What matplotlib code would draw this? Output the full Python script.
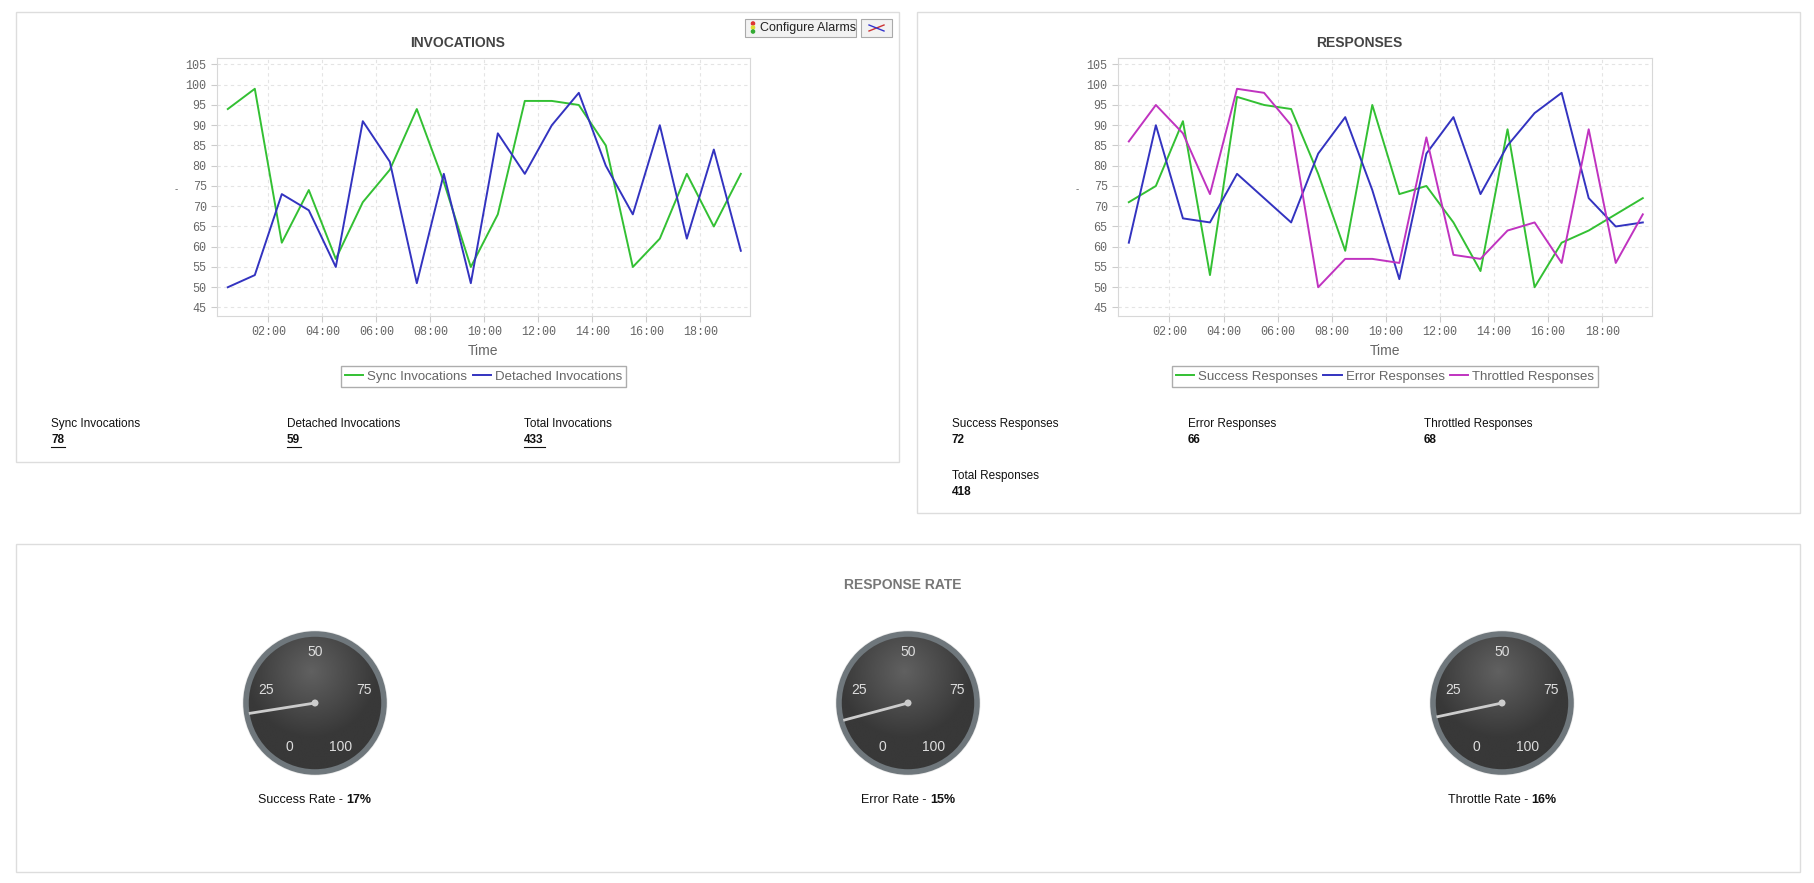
import numpy as np
import matplotlib
matplotlib.use("Agg")
import matplotlib.pyplot as plt
from matplotlib.patches import Rectangle, Circle
from matplotlib.ticker import FuncFormatter, MultipleLocator

plt.rcParams['font.family'] = ['Liberation Sans', 'DejaVu Sans']

hours = [0.5 + i for i in range(20)]
sync_inv = [94, 99, 61, 74, 57, 71, 79, 94, 76, 55, 68, 96, 96, 95, 85, 55, 62, 78, 65, 78]
detached_inv = [50, 53, 73, 69, 55, 91, 81, 51, 78, 51, 88, 78, 90, 98, 80, 68, 90, 62, 84, 59]
success_resp = [71, 75, 91, 53, 97, 95, 94, 78, 59, 95, 73, 75, 66, 54, 89, 50, 61, 64, 68, 72]
error_resp = [61, 90, 67, 66, 78, 72, 66, 83, 92, 74, 52, 83, 92, 73, 85, 93, 98, 72, 65, 66]
throttled_resp = [86, 95, 88, 73, 99, 98, 90, 50, 57, 57, 56, 87, 58, 57, 64, 66, 56, 89, 56, 68]
inv_stats = [("Sync Invocations", "78"), ("Detached Invocations", "59"), ("Total Invocations", "433")]
resp_stats = [("Success Responses", "72"), ("Error Responses", "66"), ("Throttled Responses", "68"), ("Total Responses", "418")]
gauge_names = ["Success Rate", "Error Rate", "Throttle Rate"]
gauge_values = [17, 15, 16]

W, H = 1814, 883
fig = plt.figure(figsize=(W / 100, H / 100), dpi=100)
bg = fig.add_axes([0, 0, 1, 1])
bg.set_xlim(0, W); bg.set_ylim(H, 0); bg.axis("off")

GREEN, BLUE, MAG = "#33c033", "#3333c0", "#c033c0"

for (x0, y0, x1, y1) in [(16, 12, 899, 462), (917, 12, 1800, 513), (16, 544, 1800, 872)]:
    bg.add_patch(Rectangle((x0, y0), x1 - x0, y1 - y0, fc="white", ec="#dddddd", lw=1))

for (x0, x1) in [(745, 856), (861, 892)]:
    bg.add_patch(Rectangle((x0, 19), x1 - x0, 18, fc="#f2f2f2", ec="#aaaaaa", lw=0.8))
bg.text(760, 28.5, "Configure Alarms", fontsize=9, va="center", ha="left", color="#222222")
for i, c in enumerate(["#d33", "#dd3", "#3a3"]):
    bg.add_patch(Circle((753, 23.5 + i * 4), 1.6, color=c))
bg.plot([869, 884], [31, 25], color="#c33", lw=1)
bg.plot([869, 884], [25, 31], color="#33c", lw=1)

def tfmt(v, p):
    return "%02d:00" % int(round(v))

def make_axes(px0, py0, px1, py1, series, title, tx):
    ax = fig.add_axes([px0 / W, 1 - py1 / H, (px1 - px0) / W, (py1 - py0) / H])
    for ys, c, lab in series:
        ax.plot(hours, ys, color=c, lw=1.4, label=lab)
    ax.set_xlim(0.1, 19.84)
    ax.set_ylim(42.9, 106.6)
    ax.yaxis.set_major_locator(MultipleLocator(5))
    ax.set_xticks([2, 4, 6, 8, 10, 12, 14, 16, 18])
    ax.xaxis.set_major_formatter(FuncFormatter(tfmt))
    ax.grid(True, color="#e4e4e4", ls=(0, (3, 3)), lw=0.8)
    for s in ax.spines.values():
        s.set_color("#d8d8d8")
    ax.tick_params(colors="#cccccc", labelcolor="#666666", labelsize=8.5, length=4)
    for l in ax.get_xticklabels() + ax.get_yticklabels():
        l.set_family("Liberation Mono")
    ax.set_xlabel("Time", color="#666666", fontsize=10, labelpad=4)
    leg = ax.legend(loc="upper center", bbox_to_anchor=(0.5, -0.17), ncol=len(series),
                    frameon=True, fancybox=False, fontsize=9.5, handlelength=1.4,
                    handletextpad=0.3, columnspacing=0.4, borderpad=0.3)
    leg.get_frame().set_edgecolor("#999999")
    for t in leg.get_texts():
        t.set_color("#666666")
    bg.text(tx, 43, title, fontsize=10, fontweight="bold", color="#444444", ha="center", va="center")
    bg.text(px0 - 41, 189, "-", fontsize=7, color="#666666", ha="center", va="center")
    return ax

make_axes(217, 58, 750, 316, [(sync_inv, GREEN, "Sync Invocations"), (detached_inv, BLUE, "Detached Invocations")], "INVOCATIONS", 458)
make_axes(1118, 58, 1652, 316, [(success_resp, GREEN, "Success Responses"), (error_resp, BLUE, "Error Responses"), (throttled_resp, MAG, "Throttled Responses")], "RESPONSES", 1359)

for (lab, val), x in zip(inv_stats, [51, 287, 524]):
    bg.text(x, 424, lab, fontsize=8.5, color="#111111", va="center")
    bg.text(x, 440, val, fontsize=8.5, fontweight="bold", color="#111111", va="center")
    bg.plot([x, x + 7 * len(val)], [447, 447], color="#111111", lw=0.8)
for (lab, val), (x, y) in zip(resp_stats, [(952, 424), (1188, 424), (1424, 424), (952, 476)]):
    bg.text(x, y, lab, fontsize=8.5, color="#111111", va="center")
    bg.text(x, y + 16, val, fontsize=8.5, fontweight="bold", color="#111111", va="center")

bg.text(903, 585, "RESPONSE RATE", fontsize=10, fontweight="bold", color="#777777", ha="center", va="center")

R = 71
yy, xx = np.mgrid[-1:1:200j, -1:1:200j]
rr = np.sqrt((xx + 0.05) ** 2 + (yy + 0.45) ** 2)
shade = np.clip(0.38 - 0.17 * rr, 0.22, 0.4)
renderer = fig.canvas.get_renderer()
for cx, name, val in zip([315, 908, 1502], gauge_names, gauge_values):
    bg.add_patch(Circle((cx, 703), R + 1.5, fc="#e8e8e8", ec="none"))
    im = bg.imshow(shade, cmap="gray", vmin=0, vmax=1, extent=(cx - R, cx + R, 703 + R, 703 - R), zorder=2)
    im.set_clip_path(Circle((cx, 703), R, transform=bg.transData))
    bg.add_patch(Circle((cx, 703), R - 2, fc="none", ec="#6f777c", lw=4, zorder=3))
    for v in [0, 25, 50, 75, 100]:
        a = np.deg2rad(240 - 3 * v)
        bg.text(cx + 0.72 * R * np.cos(a), 703 - 0.72 * R * np.sin(a), str(v), fontsize=10,
                color="#dddddd", ha="center", va="center", zorder=4)
    a = np.deg2rad(240 - 3 * val)
    bg.plot([cx, cx + (R - 4) * np.cos(a)], [703, 703 - (R - 4) * np.sin(a)], color="#cccccc", lw=2, zorder=5, solid_capstyle="butt")
    bg.add_patch(Circle((cx, 703), 3.5, fc="#cccccc", zorder=6))
    t1 = bg.text(0, 800, name + " - ", fontsize=9, ha="left", va="center", color="#111111")
    t2 = bg.text(0, 800, "%d%%" % val, fontsize=9, fontweight="bold", ha="left", va="center", color="#111111")
    w1 = t1.get_window_extent(renderer).width
    w2 = t2.get_window_extent(renderer).width
    start = cx - (w1 + w2) / 2
    t1.set_x(start)
    t2.set_x(start + w1)

fig.savefig("out.png", dpi=100)
